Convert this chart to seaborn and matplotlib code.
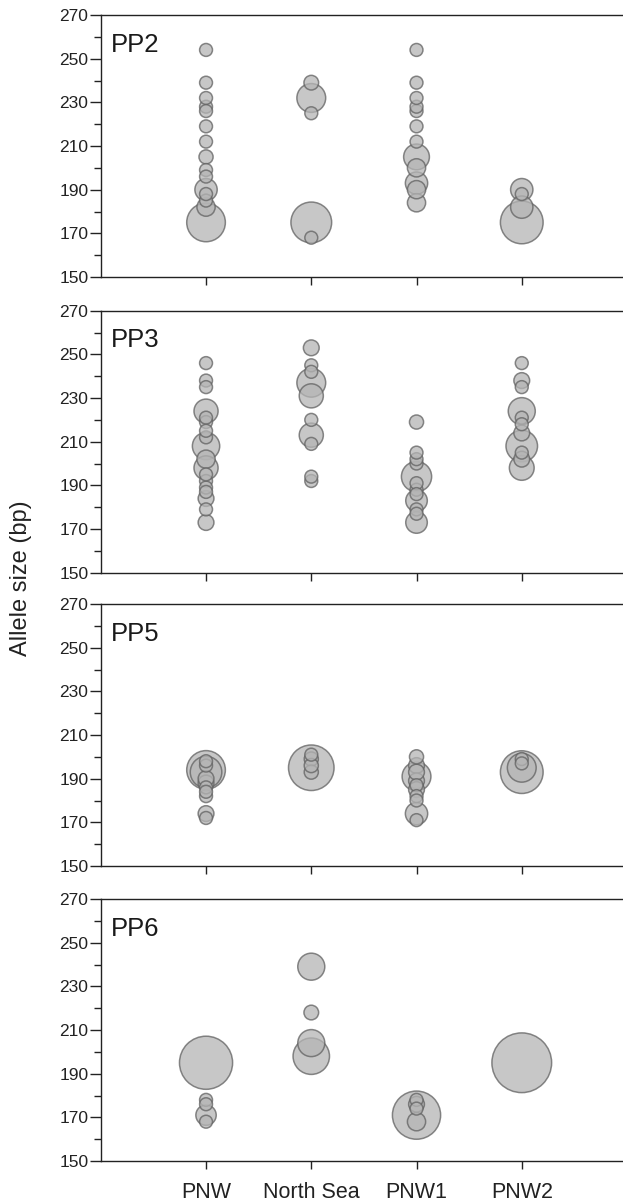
import pandas as pd
import numpy as np
import matplotlib
matplotlib.use('Agg')
import matplotlib.pyplot as plt
import seaborn as sns

# Populations (x categories)
populations = ['PNW', 'North Sea', 'PNW1', 'PNW2']
loci = ['PP2', 'PP3', 'PP5', 'PP6']

# PP2 - allele size (bp) and relative allele count per population
pp2_pop = ['PNW'] * 15 + ['North Sea'] * 5 + ['PNW1'] * 12 + ['PNW2'] * 4
pp2_bp = [254, 239, 232, 228, 226, 219, 212, 205, 199, 196, 190, 188, 185, 182, 175,
          239, 232, 225, 175, 168,
          254, 239, 232, 228, 226, 219, 212, 205, 200, 193, 190, 184,
          190, 188, 182, 175]
pp2_n = [1, 1, 1, 1, 1, 1, 1, 1.2, 1, 1, 3, 1, 1, 2, 9,
         1.3, 5, 1, 10, 1,
         1, 1, 1, 1, 1, 1, 1, 4, 2, 3, 2, 2,
         3, 1, 3, 11]

# PP3
pp3_pop = ['PNW'] * 18 + ['North Sea'] * 10 + ['PNW1'] * 12 + ['PNW2'] * 11
pp3_bp = [246, 238, 235, 224, 221, 219, 215, 212, 208, 202, 198, 195, 192, 189, 187, 184, 179, 173,
          253, 245, 242, 237, 231, 220, 213, 209, 194, 192,
          219, 205, 202, 200, 194, 191, 188, 186, 183, 179, 177, 173,
          246, 238, 235, 224, 221, 218, 214, 208, 205, 202, 198]
pp3_n = [1, 1, 1, 3.5, 1, 1, 1, 1, 4.5, 2, 3.5, 1, 1, 1, 1, 1.5, 1, 1.5,
         1.5, 1, 1, 5, 3.5, 1, 3.5, 1, 1, 1,
         1.2, 1, 1, 1, 5.5, 1, 1, 1, 2.8, 1, 1, 2.8,
         1, 1.5, 1, 4.4, 1, 1, 1.5, 6, 1, 1.5, 3.7]

# PP5
pp5_pop = ['PNW'] * 11 + ['North Sea'] * 5 + ['PNW1'] * 11 + ['PNW2'] * 4
pp5_bp = [198, 196, 194, 193, 190, 188, 186, 184, 182, 174, 172,
          195, 201, 199, 196, 193,
          200, 196, 193, 191, 189, 187, 185, 182, 180, 174, 171,
          193, 195, 199, 197]
pp5_n = [1, 1, 9, 6, 1.5, 1.5, 1, 1, 1, 1.5, 1,
         12.5, 1, 1.2, 1.2, 1.2,
         1.2, 1.5, 1.5, 5, 1.5, 1, 1.5, 1, 1, 3, 1,
         11, 5, 1, 1]

# PP6
pp6_pop = ['PNW'] * 5 + ['North Sea'] * 4 + ['PNW1'] * 5 + ['PNW2'] * 1
pp6_bp = [195, 178, 176, 171, 168,
          239, 218, 204, 198,
          171, 178, 176, 174, 168,
          195]
pp6_n = [17, 1, 1, 2.5, 1,
         4.4, 1.3, 4.4, 8,
         14, 1, 1.5, 1, 2,
         21.5]

data = {
    'PP2': (pp2_pop, pp2_bp, pp2_n),
    'PP3': (pp3_pop, pp3_bp, pp3_n),
    'PP5': (pp5_pop, pp5_bp, pp5_n),
    'PP6': (pp6_pop, pp6_bp, pp6_n),
}

sns.set_style('ticks')
plt.rcParams['font.family'] = ['Liberation Sans', 'DejaVu Sans']

W, H = 623, 1202
fig = plt.figure(figsize=(W / 100, H / 100), dpi=100)

left = 100.8 / W
width = 526.2 / W
tops = [15, 310.7, 604, 899]
ph = 262

for i, locus in enumerate(loci):
    pop, bp, n = data[locus]
    df = pd.DataFrame({'pop': pd.Categorical(pop, categories=populations),
                       'bp': bp, 'n': n})
    # big bubbles first so the small ones stay visible on top
    df = df.sort_values('n', ascending=False)
    ax = fig.add_axes([left, 1 - (tops[i] + ph) / H, width, ph / H])
    sns.scatterplot(data=df, x='pop', y='bp', size='n', sizes=(0, 2150),
                    size_norm=(0, 25), color='#b5b5b5', edgecolor='#616161',
                    linewidth=1.1, alpha=0.75, legend=False, ax=ax)
    ax.set_xlim(-1, 4)
    ax.set_ylim(150, 270)
    ax.set_yticks(range(150, 271, 20))
    ax.set_yticks(range(160, 261, 20), minor=True)
    ax.set_xticks(range(4))
    if i == 3:
        ax.set_xticklabels(populations, fontsize=15.5)
    else:
        ax.set_xticklabels([])
    ax.tick_params(axis='y', which='major', length=8, width=1, pad=1,
                   labelsize=12.5, colors='#222222')
    ax.tick_params(axis='y', which='minor', length=5, width=1, colors='#222222')
    ax.tick_params(axis='x', length=6, width=1, pad=9, colors='#222222')
    for s in ['left', 'bottom', 'top']:
        ax.spines[s].set_color('#222222')
        ax.spines[s].set_linewidth(1.0)
    ax.spines['right'].set_visible(False)
    ax.set_xlabel('')
    ax.set_ylabel('')
    ax.text(0.02, 0.86, locus, transform=ax.transAxes, fontsize=18.5,
            ha='left', va='baseline', color='#1a1a1a')

fig.text(21 / W, 1 - 578 / H, 'Allele size (bp)', rotation=90, fontsize=17,
         ha='center', va='center', color='#222222')

fig.savefig('out.png', dpi=100)
